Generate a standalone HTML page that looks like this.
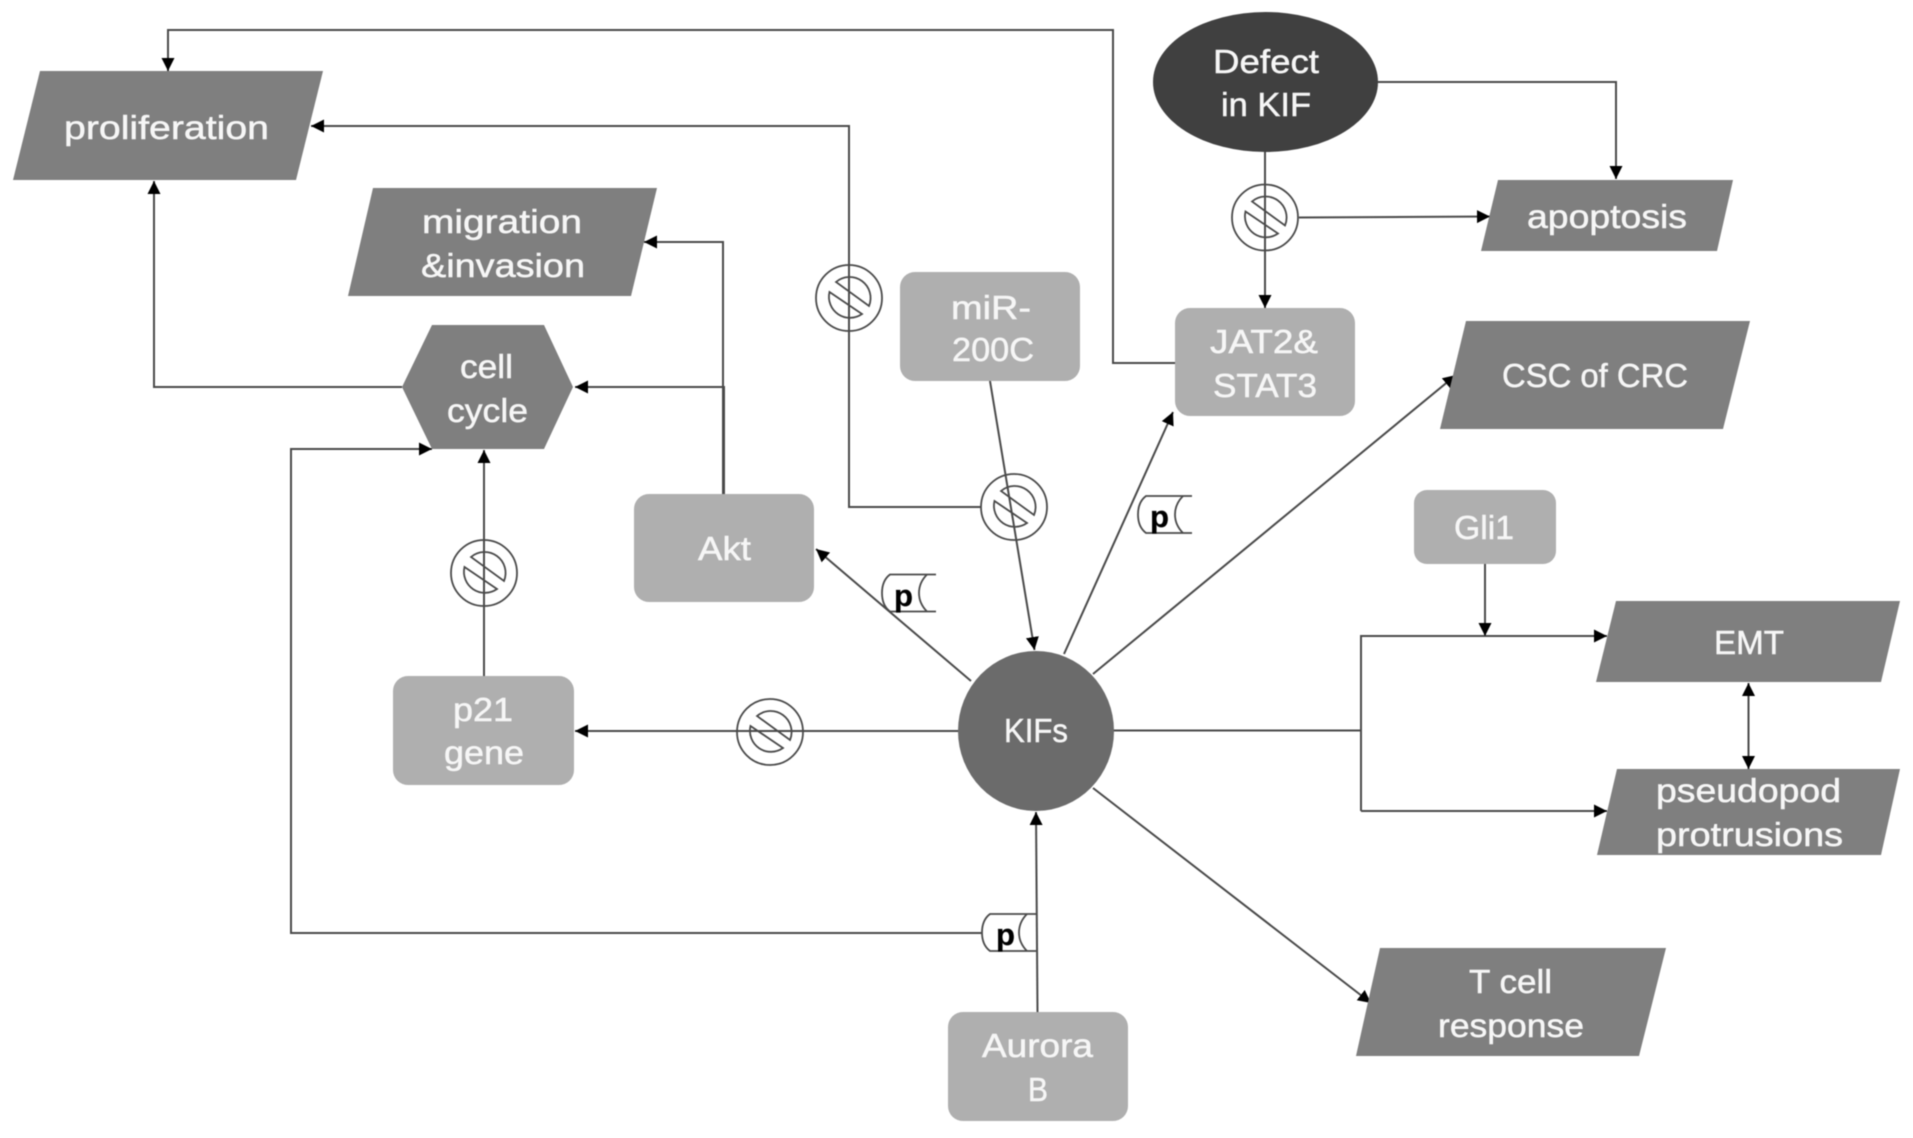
<!DOCTYPE html>
<html>
<head>
<meta charset="utf-8">
<title>KIFs diagram</title>
<style>
html,body{margin:0;padding:0;background:#fff;width:1913px;height:1138px;overflow:hidden}
svg{display:block;filter:blur(.5px)}
text{font-family:"Liberation Sans","Noto Sans CJK SC",sans-serif;font-size:33px;fill:#f6f6f6;stroke:#f6f6f6;stroke-width:.5}
text.p{font-weight:bold;font-size:31px;fill:#000;stroke:#000;stroke-width:.3}
.l{fill:none;stroke:#4a4a4a;stroke-width:2}
.s{fill:none;stroke:#4a4a4a;stroke-width:1.8}
.d{fill:#7f7f7f}
.b{fill:#afafaf}
</style>
</head>
<body>
<svg width="1913" height="1138" viewBox="0 0 1913 1138" xmlns="http://www.w3.org/2000/svg">
<defs>
<marker id="a" markerUnits="userSpaceOnUse" markerWidth="14" markerHeight="14" refX="13" refY="6.5" orient="auto-start-reverse">
<path d="M0,0 L13,6.5 L0,13 Z" fill="#000"/>
</marker>
<g id="no">
<circle cx="0" cy="0" r="33" class="s"/>
<path d="M-13,-16 A21,21 0 0 1 20,8 Z" class="s"/>
<path d="M-19.5,-6 A21,21 0 0 0 13,16 Z" class="s"/>
</g>
<g id="ps">
<path d="M54,0 L8,0 Q0,6 0,18.5 Q0,31 8,37 L54,37" class="s"/>
<path d="M45,0 Q37,8 37,18.5 Q37,29 45,37" class="s"/>
</g>
</defs>

<!-- connectors -->
<path class="l" d="M1175,363 H1113 V30 H168 V71" marker-end="url(#a)"/>
<path class="l" d="M981,507 H849 V126 H311" marker-end="url(#a)"/>
<path class="l" d="M402,387 H154 V181" marker-end="url(#a)"/>
<path class="l" d="M723,494 V242 H644" marker-end="url(#a)"/>
<path class="l" d="M724,494 V387 H575" marker-end="url(#a)"/>
<path class="l" d="M982,933 H291 V449 H432" marker-end="url(#a)"/>
<path class="l" d="M484,676 V450" marker-end="url(#a)"/>
<path class="l" d="M958,731 H575" marker-end="url(#a)"/>
<path class="l" d="M990,381 L1034.5,650" marker-end="url(#a)"/>
<path class="l" d="M971,681 L816,549" marker-end="url(#a)"/>
<path class="l" d="M1064,654 L1173,412" marker-end="url(#a)"/>
<path class="l" d="M1093,674 L1456,375" marker-end="url(#a)"/>
<path class="l" d="M1093,788 L1371,1003" marker-end="url(#a)"/>
<path class="l" d="M1037.5,1012 L1036,812" marker-end="url(#a)"/>
<path class="l" d="M1265,152 V308" marker-end="url(#a)"/>
<path class="l" d="M1299,217.5 L1490,216.5" marker-end="url(#a)"/>
<path class="l" d="M1378,82 H1616 V179" marker-end="url(#a)"/>
<path class="l" d="M1113,730.5 H1361"/>
<path class="l" d="M1361,811 V636 H1607" marker-end="url(#a)"/>
<path class="l" d="M1361,811 H1607" marker-end="url(#a)"/>
<path class="l" d="M1485,564 V636" marker-end="url(#a)"/>
<path class="l" d="M1748.5,683 V769" marker-start="url(#a)" marker-end="url(#a)"/>

<!-- parallelograms -->
<polygon class="d" points="40,71 323,71 296,180 13,180"/>
<polygon class="d" points="373,188 657,188 631,296 348,296"/>
<polygon class="d" points="1498,180 1733,180 1717,251 1481,251"/>
<polygon class="d" points="1466,321 1750,321 1723,429 1440,429"/>
<polygon class="d" points="1616,601 1900,601 1881,682 1596,682"/>
<polygon class="d" points="1617,769 1900,769 1881,855 1597,855"/>
<polygon class="d" points="1380,948 1666,948 1639,1056 1356,1056"/>
<!-- hexagon -->
<polygon class="d" points="432,325 544,325 573,387 544,449 432,449 402,387"/>
<!-- rounded boxes -->
<rect class="b" x="393" y="676" width="181" height="109" rx="15"/>
<rect class="b" x="634" y="494" width="180" height="108" rx="15"/>
<rect class="b" x="900" y="272" width="180" height="109" rx="15"/>
<rect class="b" x="1175" y="308" width="180" height="108" rx="15"/>
<rect class="b" x="1414" y="490" width="142" height="74" rx="13"/>
<rect class="b" x="948" y="1012" width="180" height="109" rx="15"/>
<!-- ellipses -->
<ellipse cx="1036" cy="731" rx="78" ry="80" fill="#6b6b6b"/>
<ellipse cx="1265.5" cy="82" rx="112.5" ry="70" fill="#404040"/>

<!-- inhibition symbols -->
<use href="#no" x="849" y="298"/>
<use href="#no" x="1014" y="507"/>
<use href="#no" x="1265" y="217.5"/>
<use href="#no" x="484" y="573"/>
<use href="#no" x="770" y="732"/>

<!-- phosphorylation symbols -->
<use href="#ps" x="882" y="574.5"/>
<use href="#ps" x="1138" y="496"/>
<use href="#ps" x="982" y="914"/>
<text class="p" x="894" y="606">p</text>
<text class="p" x="1150" y="527">p</text>
<text class="p" x="996" y="945">p</text>

<!-- labels -->
<text x="64" y="139" textLength="205" lengthAdjust="spacingAndGlyphs">proliferation</text>
<text x="422" y="233" textLength="160" lengthAdjust="spacingAndGlyphs">migration</text>
<text x="421" y="277" textLength="164" lengthAdjust="spacingAndGlyphs">&amp;invasion</text>
<text x="460" y="378" textLength="53" lengthAdjust="spacingAndGlyphs">cell</text>
<text x="447" y="422" textLength="81" lengthAdjust="spacingAndGlyphs">cycle</text>
<text x="1213" y="73" textLength="106" lengthAdjust="spacingAndGlyphs">Defect</text>
<text x="1221" y="116" textLength="90" lengthAdjust="spacingAndGlyphs">in KIF</text>
<text x="1527" y="228" textLength="160" lengthAdjust="spacingAndGlyphs">apoptosis</text>
<text x="951" y="319" textLength="80" lengthAdjust="spacingAndGlyphs">miR-</text>
<text x="952" y="361" textLength="82" lengthAdjust="spacingAndGlyphs">200C</text>
<text x="1210" y="353" textLength="108" lengthAdjust="spacingAndGlyphs">JAT2&amp;</text>
<text x="1213" y="397" textLength="104" lengthAdjust="spacingAndGlyphs">STAT3</text>
<text x="1502" y="387" textLength="186" lengthAdjust="spacingAndGlyphs">CSC of CRC</text>
<text x="1454" y="539" textLength="60" lengthAdjust="spacingAndGlyphs">Gli1</text>
<text x="698" y="560" textLength="53" lengthAdjust="spacingAndGlyphs">Akt</text>
<text x="453" y="721" textLength="60" lengthAdjust="spacingAndGlyphs">p21</text>
<text x="444" y="764" textLength="80" lengthAdjust="spacingAndGlyphs">gene</text>
<text x="1004" y="742" textLength="64" lengthAdjust="spacingAndGlyphs">KIFs</text>
<text x="1714" y="654" textLength="70" lengthAdjust="spacingAndGlyphs">EMT</text>
<text x="1656" y="802" textLength="185" lengthAdjust="spacingAndGlyphs">pseudopod</text>
<text x="1656" y="846" textLength="187" lengthAdjust="spacingAndGlyphs">protrusions</text>
<text x="1469" y="993" textLength="83" lengthAdjust="spacingAndGlyphs">T cell</text>
<text x="1438" y="1037" textLength="146" lengthAdjust="spacingAndGlyphs">response</text>
<text x="982" y="1057" textLength="111" lengthAdjust="spacingAndGlyphs">Aurora</text>
<text x="1028" y="1101" textLength="20" lengthAdjust="spacingAndGlyphs">B</text>
</svg>
</body>
</html>
